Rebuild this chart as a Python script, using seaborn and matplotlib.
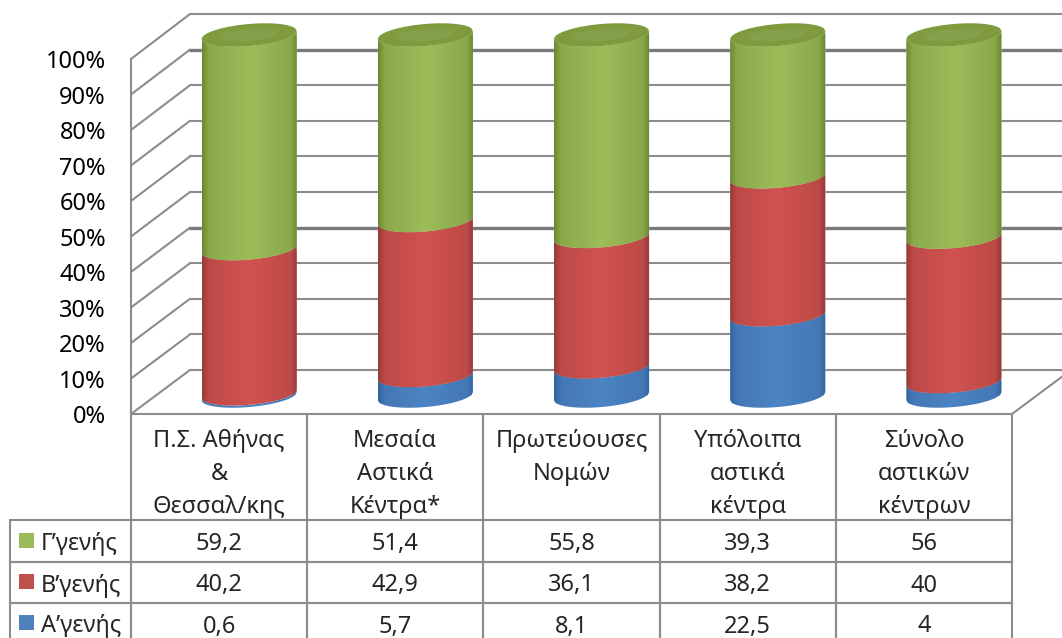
import numpy as np
import matplotlib
matplotlib.use('Agg')
import matplotlib.pyplot as plt
import seaborn as sns
from matplotlib.colors import LinearSegmentedColormap
from matplotlib.patches import ConnectionPatch, PathPatch, Rectangle
from matplotlib.path import Path
from matplotlib.table import Table

# --- Data ---
CATEGORIES = ['Π.Σ. Αθήνας\n&\nΘεσσαλ/κης', 'Μεσαία\nΑστικά\nΚέντρα*', 'Πρωτεύουσες\nΝομών\n ',
              'Υπόλοιπα\nαστικά\nκέντρα', 'Σύνολο\nαστικών\nκέντρων']
GEN_A = [0.6, 5.7, 8.1, 22.5, 4]
GEN_B = [40.2, 42.9, 36.1, 38.2, 40]
GEN_C = [59.2, 51.4, 55.8, 39.3, 56]
GEN_A_TEXT = ['0,6', '5,7', '8,1', '22,5', '4']
GEN_B_TEXT = ['40,2', '42,9', '36,1', '38,2', '40']
GEN_C_TEXT = ['59,2', '51,4', '55,8', '39,3', '56']
TICKS = list(range(0, 101, 10))

# --- Look ---
W, H = 1062, 638
LINE = '#8c8c8c'
FONT_SIZE = 17
BAR_WIDTH = 0.54
ARC_H = 11 / 3.6   # cylinder ellipse half height, in percent units
ARC_TILT = 4 / 3.6
STOPS = [0, 0.07, 0.5, 0.93, 1]
GREEN = ['#6a8a30', '#8aa94b', '#9dbd5a', '#8aa84a', '#668530']
RED = ['#9a3a38', '#bd4a48', '#d1524f', '#bc4a47', '#96393a']
BLUE = ['#33659f', '#4478b4', '#4c84c4', '#4478b4', '#33659f']

sns.set_theme(style='white')
plt.rcParams['font.family'] = ['Noto Sans', 'DejaVu Sans']

fig = plt.figure(figsize=(W / 100, H / 100), dpi=100)


def plane(left, bottom_px, top_px):
    """Axes for one depth plane of the fake 3D chart, placed in pixels."""
    ax = fig.add_axes([left / W, 1 - bottom_px / H, 881 / W, (bottom_px - top_px) / H])
    ax.set_xlim(-0.5, 4.5)
    ax.set_ylim(0, 100)
    ax.patch.set_visible(False)
    sns.despine(ax=ax, left=True, bottom=True)
    return ax


ax_back = plane(190, 370, 14)
ax_bars = plane(161, 396, 35)
ax_front = plane(131, 414, 59)

# back wall grid
ax_back.set_xticks([])
ax_back.set_yticks(TICKS)
ax_back.set_yticklabels([])
ax_back.tick_params(length=0)
ax_back.set_axisbelow(True)
ax_back.yaxis.grid(True, color=LINE, linewidth=1.5, clip_on=False)
for i, line in enumerate(ax_back.get_ygridlines()):
    line.set_clip_on(False)
    if TICKS[i] in (40, 90):
        line.set_linewidth(2.4)
        line.set_color('#7a7a7a')

# side wall diagonals and floor
for v in TICKS:
    fig.add_artist(ConnectionPatch((-0.5, v), (-0.5, v), ax_front.transData, ax_back.transData,
                                   color=LINE, linewidth=1.5))
fig.add_artist(ConnectionPatch((4.5, 0), (4.5, 0), ax_front.transData, ax_back.transData,
                               color=LINE, linewidth=1.5))

# cylinders: seaborn lays out the stacks, the round shape is clipped on top
bottom_b = np.array(GEN_A)
bottom_c = bottom_b + np.array(GEN_B)
sns.barplot(x=CATEGORIES, y=GEN_A, color=BLUE[2], saturation=1, width=BAR_WIDTH, ax=ax_bars)
sns.barplot(x=CATEGORIES, y=GEN_B, bottom=bottom_b, color=RED[2], saturation=1, width=BAR_WIDTH, ax=ax_bars)
sns.barplot(x=CATEGORIES, y=GEN_C, bottom=bottom_c, color=GREEN[2], saturation=1, width=BAR_WIDTH, ax=ax_bars)
ax_bars.set_xticks([])
ax_bars.set_yticks([])
ax_bars.set_xlabel('')
ax_bars.set_ylabel('')

t = np.linspace(-1, 1, 80)
front = -(ARC_H * np.sqrt(1 - t ** 2) - ARC_TILT * t)
back = ARC_H * np.sqrt(1 - t ** 2) + ARC_TILT * t
cmaps = [LinearSegmentedColormap.from_list(name, list(zip(STOPS, cols))) for name, cols in
         [('a', BLUE), ('b', RED), ('c', GREEN)]]
gradient = np.linspace(0, 1, 200).reshape(1, -1)

for i, bar in enumerate(ax_bars.patches):
    x0, w = bar.get_x(), bar.get_width()
    y0, y1 = bar.get_y(), bar.get_y() + bar.get_height()
    xs = x0 + (t + 1) / 2 * w
    verts = np.r_[np.c_[xs, y0 + front], np.c_[xs[::-1], (y1 + front)[::-1]]]
    outline = Path(np.r_[verts, verts[:1]], closed=True)
    bar.set_clip_path(outline, ax_bars.transData)
    im = ax_bars.imshow(gradient, extent=[x0, x0 + w, y0 - 10, y1 + 10], aspect='auto',
                        cmap=cmaps[i // 5], zorder=2)
    im.set_clip_box(fig.bbox)
    im.set_clip_path(outline, ax_bars.transData)
    if i // 5 == 2:
        # top face of the cylinder
        cap = np.r_[np.c_[xs, y1 + front], np.c_[xs[::-1], (y1 + back)[::-1]]]
        ax_bars.add_patch(PathPatch(Path(cap), facecolor='#7f9b3d', edgecolor='none', zorder=3, clip_on=False))
        cx, cy = x0 + w / 2, y1
        inner = np.c_[cx + (cap[:, 0] - cx) * 0.6, cy + (cap[:, 1] - cy) * 0.55]
        ax_bars.add_patch(PathPatch(Path(inner), facecolor='#84a04a', edgecolor='none', zorder=3, clip_on=False))
ax_bars.set_xlim(-0.5, 4.5)
ax_bars.set_ylim(0, 100)

# percent axis
ax_front.set_xticks([])
ax_front.set_yticks(TICKS)
ax_front.set_yticklabels([f'{v}%' for v in TICKS], fontsize=FONT_SIZE, color='black')
ax_front.tick_params(axis='y', length=0, pad=18)
ax_front.spines['left'].set_visible(True)
ax_front.spines['left'].set_color(LINE)
ax_front.spines['left'].set_linewidth(1.5)

# data table under the chart
col_w = 1 / 5
first_w = 121 / 881
heights = [106, 42, 41, 41]
table = Table(ax_front, bbox=[-121 / 881, -230 / 355, 1002 / 881, 230 / 355])
table.auto_set_font_size(False)
rows = [('Γ’γενής', GEN_C_TEXT), ('Β’γενής', GEN_B_TEXT), ('Α’γενής', GEN_A_TEXT)]
head = table.add_cell(0, 0, first_w, heights[0] / 355, text='', loc='center')
head.visible_edges = ''
for c, name in enumerate(CATEGORIES):
    table.add_cell(0, c + 1, col_w, heights[0] / 355, text='', loc='center')
    # the header text sits a little below the middle of its cell
    ax_front.text(c, -16.9, name, ha='center', va='center', fontsize=FONT_SIZE,
                  linespacing=1.52, clip_on=False)
for r, (label, texts) in enumerate(rows, start=1):
    cell = table.add_cell(r, 0, first_w, heights[r] / 355, text=label, loc='left')
    cell.PAD = 31 / 121
    for c, txt in enumerate(texts):
        table.add_cell(r, c + 1, col_w, heights[r] / 355, text=txt, loc='center')
for key, cell in table.get_celld().items():
    cell.set_edgecolor(LINE)
    cell.set_linewidth(1.5)
    cell.set_facecolor('none')
    cell.get_text().set_fontsize(FONT_SIZE)
    cell.get_text().set_verticalalignment('center_baseline')
ax_front.add_table(table)

# legend keys sit inside the first table column
key_tops = [533, 574, 615]
for top, col in zip(key_tops, ['#9bbb59', '#c0504d', '#4f81bd']):
    fig.add_artist(Rectangle((19 / W, 1 - (top + 15) / H), 15 / W, 15 / H, transform=fig.transFigure,
                             facecolor=col, edgecolor='none'))

fig.savefig('out.png', dpi=100)
